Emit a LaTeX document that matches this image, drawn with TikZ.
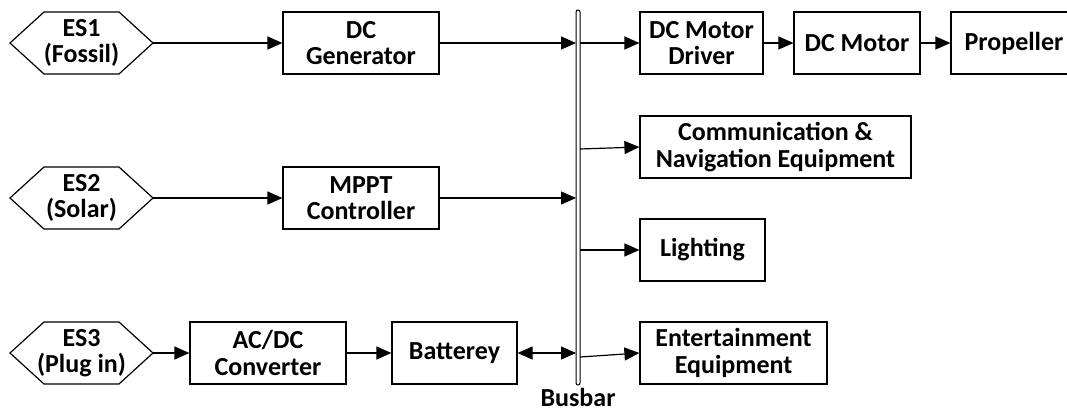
\documentclass[tikz,border=0pt]{standalone}
\usepackage{fontspec}
\setmainfont{Carlito}
\usetikzlibrary{arrows.meta}
\begin{document}
\begin{tikzpicture}[x=1pt,y=-1pt,
  lbl/.style={font=\bfseries\fontsize{26}{26.5}\selectfont, align=center},
  box/.style={lbl, draw, line width=1.2pt, minimum height=62pt, inner sep=0pt},
  hex/.style={lbl, minimum width=143pt, minimum height=62pt, inner sep=0pt, outer sep=0pt},
  hexline/.style={line width=1.2pt},
  arr/.style={line width=1.2pt, -{Triangle[length=15pt,width=13pt]}},
  darr/.style={line width=1.2pt, {Triangle[length=15pt,width=13pt]}-{Triangle[length=15pt,width=13pt]}},
  busbar/.style={draw, line width=1pt, rounded corners=2pt, minimum width=4pt, minimum height=375pt, inner sep=0pt, outer sep=0pt}]
\useasboundingbox (0,0) rectangle (1067,412);

\node[hex] (es1) at (81.5,43) {ES1\\(Fossil)};
\node[hex] (es2) at (81.5,198) {ES2\\(Solar)};
\node[hex] (es3) at (81.5,353) {ES3\\(Plug in)};
\foreach \h in {es1,es2,es3}
  \draw[hexline] (\h.west) -- ([xshift=34pt]\h.north west) -- ([xshift=-34pt]\h.north east) -- (\h.east) -- ([xshift=-34pt]\h.south east) -- ([xshift=34pt]\h.south west) -- cycle;

\node[box, minimum width=156pt] (gen) at (361,43) {DC\\Generator};
\node[box, minimum width=156pt] (mppt) at (361,198) {MPPT\\Controller};
\node[box, minimum width=156pt] (acdc) at (268,353) {AC/DC\\Converter};
\node[box, minimum width=125pt] (bat) at (454.5,353) {Batterey};

\node[busbar] (bus) at (578,197.5) {};
\node[lbl, anchor=base, inner sep=0pt, text depth=0pt] (buslabel) at (578,406) {Busbar};

\node[box, minimum width=123pt] (drv) at (701.5,43) {DC Motor\\Driver};
\node[box, minimum width=126pt] (mot) at (857,43) {DC Motor};
\node[box, minimum width=126pt] (prop) at (1014,43) {Propeller};
\node[box, minimum width=271pt] (comm) at (775.5,147) {Communication \&\\Navigation Equipment};
\node[box, minimum width=125pt] (light) at (702.5,250) {Lighting};
\node[box, minimum width=187pt] (ent) at (733.5,353) {Entertainment\\Equipment};

\draw[arr] (es1.east) -- (gen.west);
\draw[arr] (gen.east) -- (gen.east -| bus.west);
\draw[arr] (gen.east -| bus.east) -- (drv.west);
\draw[arr] (drv.east) -- (mot.west);
\draw[arr] (mot.east) -- (prop.west);
\draw[arr] (es2.east) -- (mppt.west);
\draw[arr] (mppt.east) -- (mppt.east -| bus.west);
\draw[arr] (es3.east) -- (acdc.west);
\draw[arr] (acdc.east) -- (bat.west);
\draw[darr] (bat.east) -- (bat.east -| bus.west);
\draw[arr] ([yshift=-2pt]comm.west -| bus.east) -- (comm.west);
\draw[arr] (light.west -| bus.east) -- (light.west);
\draw[arr] ([yshift=-4pt]ent.west -| bus.east) -- (ent.west);
\end{tikzpicture}
\end{document}
